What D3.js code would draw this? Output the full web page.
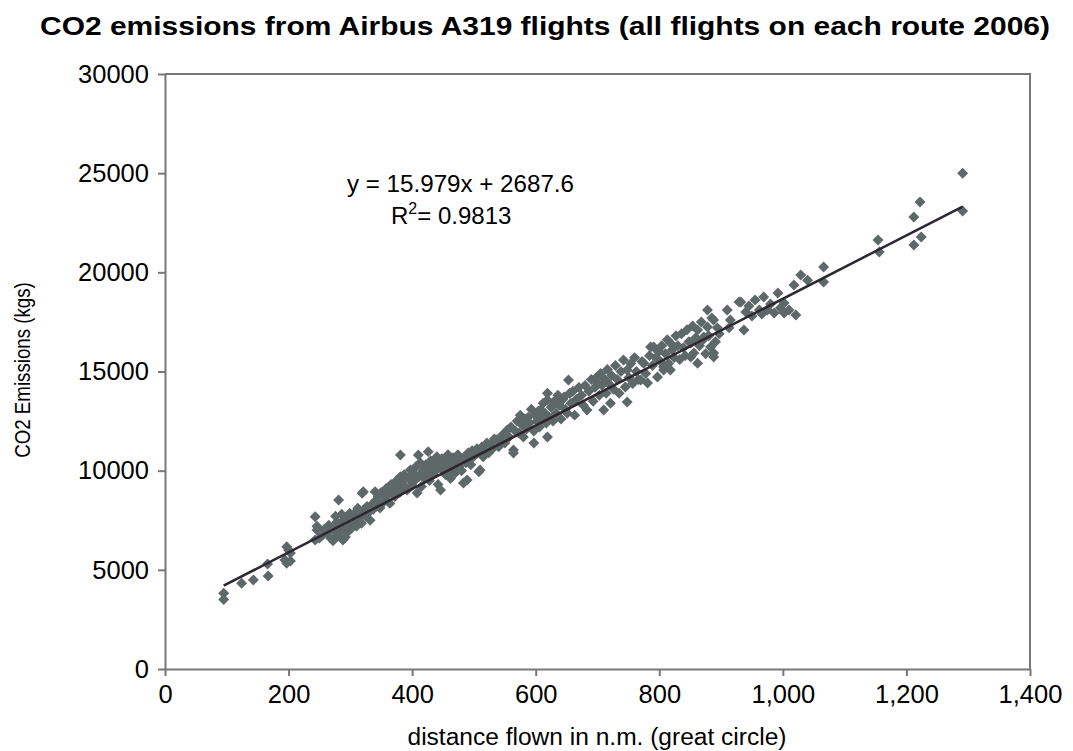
<!DOCTYPE html>
<html>
<head>
<meta charset="utf-8">
<script src="https://cdn.jsdelivr.net/npm/d3@7"></script>
<style>
  body { margin: 0; background: #fff; }
  text { font-family: "Liberation Sans", Arial, sans-serif; fill: #000; }
</style>
</head>
<body>
<svg id="chart" width="1073" height="751"></svg>
<script>
  // distance flown (n.m.) and CO2 emissions (kgs)
  var distance = [
    95, 95, 124, 143, 167, 166, 194, 197, 197, 203, 200, 203,
    243, 246, 243, 246, 250, 255, 258, 262, 265, 268, 270, 272, 275, 278, 280, 281, 283, 285,
    287, 288, 290, 292, 294, 295, 297, 298, 299, 264, 276, 286,
    302, 304, 306, 308, 310, 312, 314, 316, 318, 319, 321, 322, 325, 327, 330, 332, 335, 337,
    340, 341, 343, 345, 348, 350, 353, 356, 358, 361, 364, 366, 370, 372, 375, 377, 380, 381,
    381, 384, 387, 390, 392, 395, 397, 399,
    402, 404, 406, 408, 410, 411, 413, 415, 417, 420, 422, 424, 426, 426, 428, 430, 432, 434,
    436, 438, 440, 442, 444, 446, 448, 450, 452, 454, 456, 458, 460, 462, 464, 466, 468, 470,
    472, 474, 476, 478, 480, 483, 485, 487, 489, 491, 493, 495, 497, 499,
    502, 505, 508, 510, 510, 513, 515, 518, 521, 524, 527, 530, 533, 537, 540, 543, 546, 550,
    554, 557, 560, 564, 564, 567, 570, 573, 575, 578, 580, 582, 585, 588, 590, 593, 597, 597, 599,
    602, 604, 606, 608, 610, 612, 615, 617, 619, 619, 619, 622, 625, 628, 630, 633, 636, 638,
    641, 644, 646, 648, 651, 653, 655, 657, 660, 663, 666, 670, 674, 677, 680, 683, 686, 690,
    693, 696, 699, 700,
    703, 705, 707, 710, 712, 714, 716, 718, 721, 723, 726, 729, 732, 735, 738, 742, 745, 748,
    748, 751, 754, 757, 760, 763, 766, 770, 772, 775, 778, 781, 784, 786, 789, 791, 794, 797, 799,
    802, 804, 807, 807, 810, 813, 815, 818, 818, 821, 824, 827, 830, 833, 836, 839, 842, 845,
    848, 851, 851, 854, 856, 859, 862, 862, 865, 868, 870, 872, 875, 878, 878, 880, 883, 885,
    888, 888, 888, 891, 894, 897,
    910, 913, 915, 929, 932, 937, 940, 945, 950, 955, 962, 966, 969, 975, 980, 986, 992, 996,
    1002, 1002, 1010, 1018, 1021, 1029, 1040, 1066, 1066,
    1154, 1156, 1212, 1212, 1222, 1224, 1291, 1291
  ];
  var emissions = [
    3500, 3820, 4320, 4490, 4690, 5290, 5500, 5330, 6170, 5850, 6000, 5450,
    6500, 7010, 7680, 7200, 6600, 6750, 7050, 6900, 7250, 6600, 7100, 6470, 6950, 7400, 6700, 8520, 7150, 7000,
    7450, 6500, 7300, 6650, 7600, 6900, 7200, 7500, 7850, 7000, 7700, 7800,
    7100, 7650, 7400, 7900, 7200, 8100, 7600, 7800, 7350, 8860, 8940, 8000, 7700, 8200, 7900, 7500, 8300, 8050,
    8940, 8500, 8200, 8700, 8120, 8900, 8400, 8600, 9100, 8800, 8350, 9300, 9030, 8700, 9500, 9200, 8900, 10790,
    9700, 9400, 9800, 9100, 9030, 9600, 10030, 9300,
    9900, 9500, 10200, 8870, 10790, 9700, 10400, 9200, 10000, 9600, 10300, 9900, 10960, 10200, 9500, 10500, 10100, 9800,
    10400, 10000, 10700, 9300, 10300, 9030, 10600, 10000, 10500, 9800, 10200, 10800, 10400, 9600, 10000, 10650, 10300, 9900,
    10500, 10800, 10200, 10600, 10000, 9380, 10700, 10400, 9530, 10900, 10600, 10300, 11000, 10700,
    10800, 11100, 9950, 10030, 10900, 11200, 10700, 11000, 11390, 10900, 11300, 11100, 11600, 11550, 11200, 11550, 11800, 11400,
    12050, 11700, 12200, 11040, 10890, 12000, 12500, 11900, 12800, 12300, 11700, 12600, 12100, 12700, 12400, 13100, 11390, 12000, 12800,
    12500, 13000, 12200, 13060, 12600, 13400, 12900, 12400, 13560, 13900, 11700, 12700, 13200, 12500, 13500, 12900, 13800, 13300,
    12600, 13600, 13720, 13100, 12900, 14570, 13900, 13400, 14000, 12800, 13600, 14200, 13800, 13300, 14300, 13060, 14000, 14600,
    13500, 14200, 14720, 14420,
    13800, 14900, 14300, 13060, 14600, 13900, 15100, 14400, 13400, 14800, 14100, 15300, 14600, 13900, 15000, 15580, 14220, 15080,
    13460, 14700, 15400, 14400, 15700, 15000, 14600, 14570, 15500, 15420, 14900, 14420, 15800, 16240, 15300, 16240, 15700, 14720, 16000,
    15500, 16300, 15230, 15080, 15900, 16600, 15400, 16440, 15080, 16100, 15700, 16800, 16300, 15600, 16900, 16200, 15800, 17100,
    16500, 16440, 15730, 17300, 15930, 16700, 17090, 15420, 16300, 17500, 16580, 16740, 15900, 18100, 17240, 16800, 16240, 17700,
    17600, 15730, 15930, 16500, 17200, 16900,
    18100, 17200, 17600, 18500, 18500, 17090, 18000, 18300, 17800, 18600, 18100, 17900, 18760, 18100, 18400, 17950, 18960, 18200,
    18450, 17950, 18100, 19360, 17850, 19870, 19600, 20270, 19510,
    21630, 21030, 22790, 21380, 23550, 21780, 25000, 23090
  ];

  // linear trendline shown on the chart
  var slope = 15.979;
  var intercept = 2687.6;
  var rSquared = "0.9813";

  var xTicks = [0, 200, 400, 600, 800, 1000, 1200, 1400];
  var yTicks = [0, 5000, 10000, 15000, 20000, 25000, 30000];

  var points = distance.map(function (d, i) { return { x: d, y: emissions[i] }; });

  var margin = { top: 74, right: 43, bottom: 82, left: 165 };
  var width = 1073 - margin.left - margin.right;
  var height = 751 - margin.top - margin.bottom;

  var svg = d3.select("#chart");

  svg.append("text")
      .attr("x", 545)
      .attr("y", 35)
      .attr("text-anchor", "middle")
      .attr("textLength", 1010)
      .attr("lengthAdjust", "spacingAndGlyphs")
      .style("font-weight", "bold")
      .style("font-size", "25px")
      .text("CO2 emissions from Airbus A319 flights (all flights on each route 2006)");

  var g = svg.append("g").attr("transform", "translate(" + margin.left + "," + margin.top + ")");

  var x = d3.scaleLinear().domain([0, 1400]).range([0, width]);
  var y = d3.scaleLinear().domain([0, 30000]).range([height, 0]);

  // frame on top and right
  g.append("path")
      .attr("d", ["M", 0, 0, "L", width, 0, "L", width, height].join(" "))
      .attr("fill", "none")
      .attr("stroke", "#777")
      .attr("stroke-width", 2);

  var xAxis = g.append("g")
      .attr("transform", "translate(0," + height + ")")
      .call(d3.axisBottom(x).tickValues(xTicks).tickFormat(d3.format(",")).tickSize(7).tickSizeOuter(0).tickPadding(9));

  var yAxis = g.append("g")
      .call(d3.axisLeft(y).tickValues(yTicks).tickFormat(d3.format("d")).tickSize(7).tickSizeOuter(0).tickPadding(9));

  [xAxis, yAxis].forEach(function (ax) {
    ax.select(".domain").attr("stroke", "#777").attr("stroke-width", 2);
    ax.selectAll(".tick line").attr("stroke", "#777").attr("stroke-width", 2);
    ax.selectAll(".tick text")
        .style("font-size", "25.5px")
        .style("font-family", "'Liberation Sans', Arial, sans-serif")
        .attr("fill", "#000");
  });

  g.selectAll("path.point").data(points).enter()
      .append("path")
      .attr("class", "point")
      .attr("d", d3.symbol().type(d3.symbolSquare).size(60))
      .attr("fill", "#5e6868")
      .attr("transform", function (d) {
        return "translate(" + x(d.x) + "," + y(d.y) + ") rotate(45)";
      });

  var xMin = d3.min(distance);
  var xMax = d3.max(distance);

  g.append("line")
      .attr("x1", x(xMin))
      .attr("y1", y(slope * xMin + intercept))
      .attr("x2", x(xMax))
      .attr("y2", y(slope * xMax + intercept))
      .attr("stroke", "#2c2730")
      .attr("stroke-width", 2.5);

  svg.append("text")
      .attr("x", 347)
      .attr("y", 192)
      .attr("textLength", 227)
      .attr("lengthAdjust", "spacingAndGlyphs")
      .style("font-size", "24px")
      .text("y = " + slope + "x + " + intercept);

  var r2 = svg.append("text")
      .attr("x", 391)
      .attr("y", 224)
      .style("font-size", "24px");
  r2.append("tspan").text("R");
  r2.append("tspan").attr("dy", -10).style("font-size", "16px").text("2");
  r2.append("tspan").attr("dy", 10).text("= " + rSquared);

  svg.append("text")
      .attr("x", 597)
      .attr("y", 745)
      .attr("text-anchor", "middle")
      .attr("textLength", 379)
      .attr("lengthAdjust", "spacingAndGlyphs")
      .style("font-size", "23px")
      .text("distance flown in n.m. (great circle)");

  // the source picture is stretched sideways, so the rotated label gets wider glyphs
  svg.append("text")
      .attr("transform", "translate(30,370) scale(1.2,1) rotate(-90)")
      .attr("text-anchor", "middle")
      .style("font-size", "18.7px")
      .text("CO2 Emissions (kgs)");
</script>
</body>
</html>
